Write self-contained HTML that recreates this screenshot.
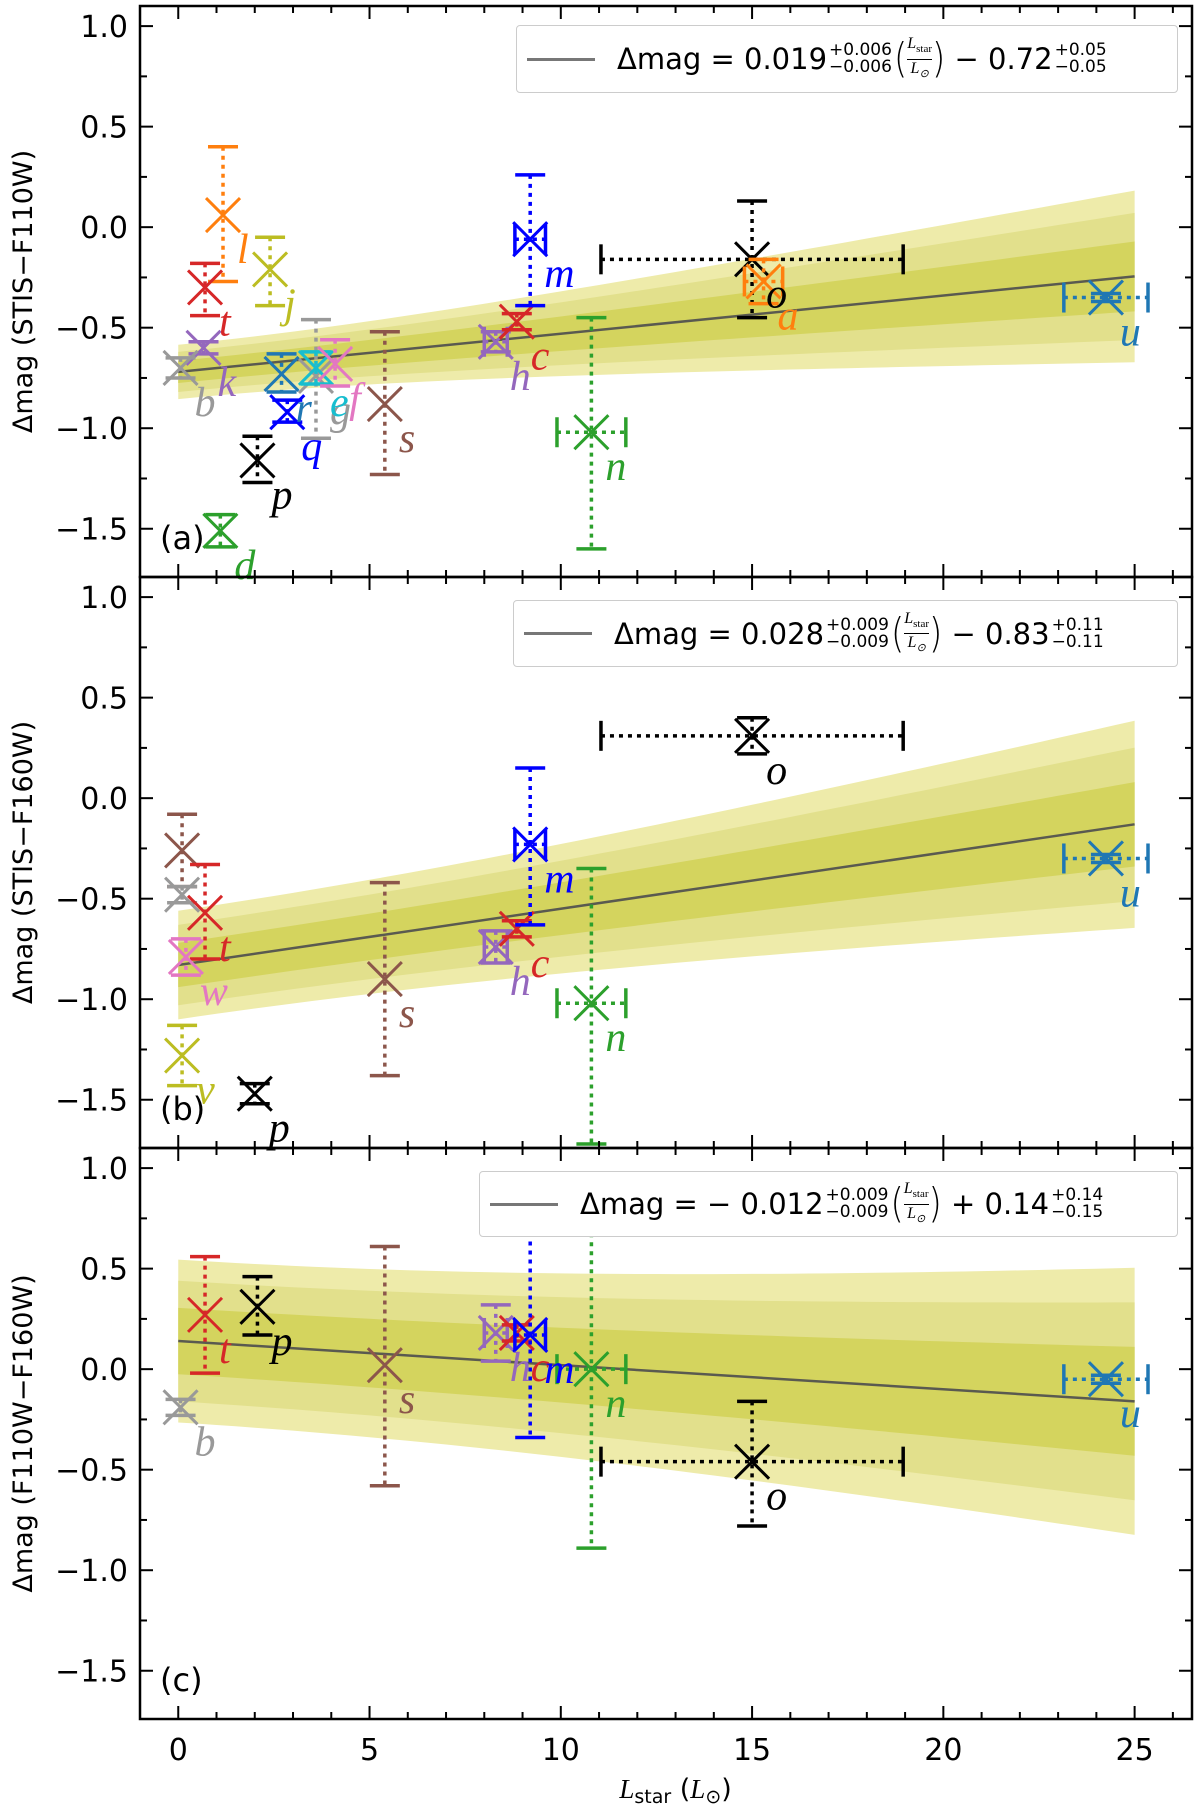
<!DOCTYPE html>
<html><head><meta charset="utf-8">
<style>
body{margin:0;background:#fff;}
#wrap{position:relative;width:1200px;height:1805px;overflow:hidden;font-family:"DejaVu Sans","Liberation Sans",sans-serif;}
svg{position:absolute;left:0;top:0;}
.leg{position:absolute;background:#fff;border:1.5px solid #ccc;border-radius:4px;display:flex;align-items:center;font-size:29px;color:#000;white-space:nowrap;}
.leg .ln{display:inline-block;width:68px;height:0;border-top:3px solid #777;margin:0 22px 0 10px;}
.st{display:inline-flex;flex-direction:column;font-size:17px;line-height:17px;vertical-align:middle;margin:0 2px;}
.fr{display:inline-flex;flex-direction:column;align-items:center;font-size:16px;line-height:18px;vertical-align:middle;font-style:italic;font-family:"Liberation Serif",serif;}
.fr span:first-child{border-bottom:1.2px solid #000;}
.par{font-size:34px;font-weight:100;transform:scaleY(1.2);display:inline-block;}
</style></head><body>
<div id="wrap">
<svg id="chart" width="1200" height="1805"></svg>
<div class="leg" style="left:516px;top:25px;width:660px;height:66px;"><span class="ln"></span>Δmag = 0.019<span class="st"><span>+0.006</span><span>−0.006</span></span><span class="par">(</span><span class="fr"><span>L<sub style="font-size:11px;font-style:normal">star</sub></span><span>L<sub style="font-size:11px">⊙</sub></span></span><span class="par">)</span>&nbsp;− 0.72<span class="st"><span>+0.05</span><span>−0.05</span></span></div>
<div class="leg" style="left:513px;top:600px;width:663px;height:65px;"><span class="ln"></span>Δmag = 0.028<span class="st"><span>+0.009</span><span>−0.009</span></span><span class="par">(</span><span class="fr"><span>L<sub style="font-size:11px;font-style:normal">star</sub></span><span>L<sub style="font-size:11px">⊙</sub></span></span><span class="par">)</span>&nbsp;− 0.83<span class="st"><span>+0.11</span><span>−0.11</span></span></div>
<div class="leg" style="left:479px;top:1171px;width:697px;height:64px;"><span class="ln"></span>Δmag = − 0.012<span class="st"><span>+0.009</span><span>−0.009</span></span><span class="par">(</span><span class="fr"><span>L<sub style="font-size:11px;font-style:normal">star</sub></span><span>L<sub style="font-size:11px">⊙</sub></span></span><span class="par">)</span>&nbsp;+ 0.14<span class="st"><span>+0.14</span><span>−0.15</span></span></div>
</div>
<script>
// Panel (a) data
const aNames=['l','t','j','k','b','r','q','g','e','f','s','p','d','h','c','m','n','o','a','u'];
const aL=[1.17,0.7,2.4,0.66,0.06,2.7,2.85,3.6,3.6,4.1,5.4,2.07,1.1,8.3,8.85,9.2,10.8,15.0,15.3,24.25];
const aV=[0.06,-0.30,-0.21,-0.60,-0.70,-0.73,-0.92,-0.74,-0.70,-0.68,-0.88,-1.16,-1.51,-0.57,-0.47,-0.06,-1.02,-0.16,-0.27,-0.35];
const aHi=[0.40,-0.18,-0.05,-0.57,-0.65,-0.63,-0.86,-0.46,-0.62,-0.56,-0.52,-1.04,-1.43,-0.52,-0.43,0.26,-0.45,0.13,-0.16,-0.33];
const aLo=[-0.27,-0.44,-0.39,-0.63,-0.75,-0.82,-0.97,-1.05,-0.78,-0.79,-1.23,-1.27,-1.59,-0.62,-0.51,-0.39,-1.60,-0.45,-0.38,-0.37];
const aXe=[0,0,0,0,0,0,0,0,0,0,0,0,0,0.3,0,0.4,0.9,3.95,0.5,1.1];
const aCol=['#ff7f0e','#d62728','#bcbd22','#9467bd','#999999','#1f77b4','#0000ff','#999999','#17becf','#e377c2','#8c564b','#000000','#2ca02c','#9467bd','#d62728','#0000ff','#2ca02c','#000000','#ff7f0e','#1f77b4'];
// Panel (b) data
const bNames=['','','t','w','v','p','s','h','c','m','n','o','u'];
const bL=[0.1,0.1,0.7,0.2,0.1,2.0,5.4,8.3,8.85,9.2,10.8,15.0,24.25];
const bV=[-0.26,-0.48,-0.57,-0.79,-1.28,-1.47,-0.90,-0.74,-0.65,-0.23,-1.02,0.31,-0.30];
const bHi=[-0.08,-0.44,-0.33,-0.70,-1.13,-1.42,-0.42,-0.66,-0.61,0.15,-0.35,0.40,-0.28];
const bLo=[-0.44,-0.52,-0.80,-0.88,-1.43,-1.52,-1.38,-0.82,-0.69,-0.63,-1.72,0.22,-0.32];
const bXe=[0,0,0,0,0,0,0,0.3,0,0.4,0.9,3.95,1.1];
const bCol=['#8c564b','#999999','#d62728','#e377c2','#bcbd22','#000000','#8c564b','#9467bd','#d62728','#0000ff','#2ca02c','#000000','#1f77b4'];
// Panel (c) data
const cNames=['t','p','b','s','h','c','m','n','o','u'];
const cL=[0.7,2.07,0.06,5.4,8.3,8.85,9.2,10.8,15.0,24.25];
const cV=[0.27,0.31,-0.19,0.02,0.18,0.18,0.17,0.0,-0.46,-0.05];
const cHi=[0.56,0.46,-0.15,0.61,0.32,0.22,0.68,0.90,-0.16,-0.03];
const cLo=[-0.02,0.17,-0.23,-0.58,0.04,0.14,-0.34,-0.89,-0.78,-0.07];
const cXe=[0,0,0,0,0.3,0,0.4,0.9,3.95,1.1];
const cCol=['#d62728','#000000','#999999','#8c564b','#9467bd','#d62728','#0000ff','#2ca02c','#000000','#1f77b4'];
// Fits: slope, intercept, band sigmas
const fitSlope=[0.019,0.028,-0.012];
const fitInt=[-0.72,-0.83,0.14];
const bandSlopeErr=[0.006,0.0065,0.0078];
const bandIntErr=[0.05,0.10,0.15];
const xTicks=[0,5,10,15,20,25];
const yTicks=[1.0,0.5,0.0,-0.5,-1.0,-1.5];
const yTickLabels=['1.0','0.5','0.0','−0.5','−1.0','−1.5'];
const panelTitles=['(a)','(b)','(c)'];
const yTitles=['Δmag (STIS−F110W)','Δmag (STIS−F160W)','Δmag (F110W−F160W)'];

const svg=document.getElementById('chart');
const NS='http://www.w3.org/2000/svg';
const X0=140,X1=1192,XMIN=-1,XMAX=26.5,YMIN=-1.74,YMAX=1.1,PH=571;
const tops=[6,577,1148];
const sx=v=>X0+(v-XMIN)/(XMAX-XMIN)*(X1-X0);
function mk(tag,attrs,parent){const e=document.createElementNS(NS,tag);for(const k in attrs)e.setAttribute(k,attrs[k]);(parent||svg).appendChild(e);return e;}

const panels=[
 {n:aNames,L:aL,V:aV,H:aHi,Lo:aLo,Xe:aXe,C:aCol},
 {n:bNames,L:bL,V:bV,H:bHi,Lo:bLo,Xe:bXe,C:bCol},
 {n:cNames,L:cL,V:cV,H:cHi,Lo:cLo,Xe:cXe,C:cCol}];
const bandK=[2.7,2,1.1];
const bandCol=['#eeebaa','#e2e08c','#d4d45e'];

panels.forEach((P,pi)=>{
 const top=tops[pi];
 const sy=v=>top+(YMAX-v)/(YMAX-YMIN)*PH;
 const g=mk('g',{});
 
 
 const clip=mk('clipPath',{id:'clip'+pi},g);
 mk('rect',{x:X0,y:top,width:X1-X0,height:PH},clip);
 const pg=mk('g',{'clip-path':'url(#clip'+pi+')'},g);
 bandK.forEach((k,bi)=>{
  let up=[],dn=[];
  for(let i=0;i<=50;i++){const x=i*0.5;const m=fitSlope[pi]*x+fitInt[pi];const s=Math.sqrt(bandIntErr[pi]**2+(bandSlopeErr[pi]*x)**2);up.push(sx(x)+','+sy(m+k*s));dn.unshift(sx(x)+','+sy(m-k*s));}
  const p=mk('polygon',{points:up.concat(dn).join(' '),fill:bandCol[bi]},pg);
  
  
 });
 const fl=mk('line',{x1:sx(0),y1:sy(fitInt[pi]),x2:sx(25),y2:sy(fitSlope[pi]*25+fitInt[pi]),stroke:'#5a5a50','stroke-width':2.5},pg);
 
 
 P.L.forEach((L,i)=>{
  const col=P.C[i],cx=sx(L),cy=sy(P.V[i]);
  const pt=mk('g',{},pg);
  
  
  const st={stroke:col,'stroke-width':3.5,fill:'none'};
  mk('line',Object.assign({x1:cx,x2:cx,y1:sy(P.H[i]),y2:sy(P.Lo[i]),'stroke-dasharray':'4 5'},st),pt);
  [P.H[i],P.Lo[i]].forEach(v=>mk('line',Object.assign({x1:cx-15,x2:cx+15,y1:sy(v),y2:sy(v)},st),pt));
  if(P.Xe[i]>0){const xa=sx(L-P.Xe[i]),xb=sx(L+P.Xe[i]);
   mk('line',Object.assign({x1:xa,x2:xb,y1:cy,y2:cy,'stroke-dasharray':'4 5'},st),pt);
   [xa,xb].forEach(x=>mk('line',Object.assign({x1:x,x2:x,y1:cy-15,y2:cy+15},st),pt));}
  mk('path',{d:`M${cx-17},${cy-17}L${cx+17},${cy+17}M${cx-17},${cy+17}L${cx+17},${cy-17}`,stroke:col,'stroke-width':3,fill:'none'},pt);
 });
 P.L.forEach((L,i)=>{
  if(!P.n[i])return;
  const t=mk('text',{x:sx(L)+14,y:sy(P.V[i])+48,fill:P.C[i],'font-family':'"Liberation Serif",serif','font-style':'italic','font-size':42},g);
  t.textContent=P.n[i];
  
  
 });
 const fr=mk('rect',{x:X0,y:top,width:X1-X0,height:PH,fill:'none',stroke:'#000','stroke-width':2.5},g);
 
 
 for(let v=-1;v<=26;v++){const x=sx(v);const len=(v%5===0)?13:7;
  mk('line',{x1:x,x2:x,y1:top+PH,y2:top+PH-len,stroke:'#000','stroke-width':2},g);
  mk('line',{x1:x,x2:x,y1:top,y2:top+len,stroke:'#000','stroke-width':2},g);}
 for(let k=-6;k<=4;k++){const v=k*0.25;const y=sy(v);const len=(k%2===0)?13:7;
  mk('line',{x1:X0,x2:X0+len,y1:y,y2:y,stroke:'#000','stroke-width':2},g);
  mk('line',{x1:X1,x2:X1-len,y1:y,y2:y,stroke:'#000','stroke-width':2},g);}
 yTicks.forEach((v,i)=>{const t=mk('text',{x:128,y:sy(v)+11,'text-anchor':'end','font-size':30,fill:'#000'},g);t.textContent=yTickLabels[i];
  
  });
 const yt=mk('text',{x:0,y:0,transform:`translate(32,${top+PH/2}) rotate(-90)`,'text-anchor':'middle','font-size':27,fill:'#000'},g);
 yt.textContent=yTitles[pi];
 
 
 const pt=mk('text',{x:160,y:top+PH-28,'font-size':32,fill:'#000'},g);
 pt.textContent=panelTitles[pi];
 
 
});
xTicks.forEach(v=>{const t=mk('text',{x:sx(v),y:1760,'text-anchor':'middle','font-size':30,fill:'#000'});t.textContent=String(v);
 
 });
const xt=mk('text',{x:sx(13),y:1798,'text-anchor':'middle','font-size':27,fill:'#000'});
xt.innerHTML='<tspan font-family="Liberation Serif" font-style="italic">L</tspan><tspan font-size="19" dy="5">star</tspan><tspan dy="-5"> (</tspan><tspan font-family="Liberation Serif" font-style="italic">L</tspan><tspan font-size="19" dy="5">⊙</tspan><tspan dy="-5">)</tspan>';


</script>
</body></html>
